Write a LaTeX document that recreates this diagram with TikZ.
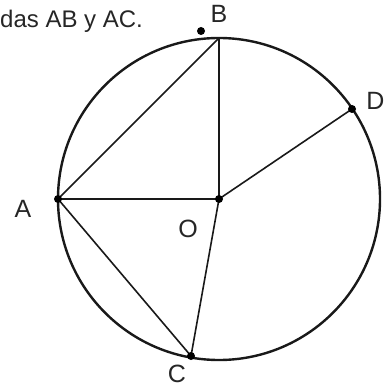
\documentclass[tikz,border=0pt]{standalone}
\usepackage{fontspec}
\setmainfont{Liberation Sans}
\begin{document}
\begin{tikzpicture}[x=1pt,y=-1pt,
  chord/.style={line width=1.6pt,black!90},
  dot/.style={circle,fill=black,inner sep=0pt,minimum size=8pt},
  lbl/.style={font=\fontsize{25}{29}\selectfont,inner sep=0pt,text=black!85}]
\useasboundingbox (0,0) rectangle (385,387);
\coordinate (O) at (219,199);
\coordinate (A) at (58,199);
\coordinate (B) at (219,38);
\coordinate (D) at (352,109);
\coordinate (C) at (191,356);
\draw[line width=2.4pt,black!90] (O) circle (161);
\draw[chord] (A) -- (B) (B) -- (O) (A) -- (O) (O) -- (D) (A) -- (C) (O) -- (C);
\node[dot] (dA) at (A) {};
\node[dot] (dO) at (O) {};
\node[dot] (dD) at (D) {};
\node[dot] (dC) at (C) {};
\node[dot] (dB) at (201,31) {};
\node[lbl,font=\fontsize{24}{28}\selectfont,anchor=base west] (txt) at (0,28) {das AB y AC.};
\node[lbl] (lB) at (219,14) {B};
\node[lbl] (lD) at (375.5,101) {D};
\node[lbl] (lA) at (23,209) {A};
\node[lbl] (lO) at (188,229) {O};
\node[lbl] (lC) at (177,373.5) {C};
\end{tikzpicture}
\end{document}
